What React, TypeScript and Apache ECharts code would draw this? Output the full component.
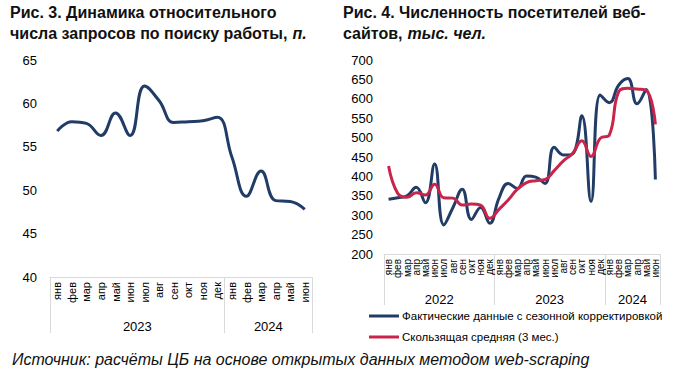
import React, { useEffect, useRef } from "react";
import * as echarts from "echarts";

const months = ["янв", "фев", "мар", "апр", "май", "июн", "июл", "авг", "сен", "окт", "ноя", "дек"];

// Left chart (Рис. 3)
const leftCategories = [...months, ...months.slice(0, 6)];
const leftYears = ["2023", "2024"];
const leftYearCounts = [12, 6];
const leftValues = [56.8, 57.9, 57.7, 56.3, 58.9, 56.3, 62.0, 60.3, 57.8, 57.9, 58.0, 58.4, 53.8, 49.3, 52.2, 48.8, 48.7, 47.8];

// Right chart (Рис. 4)
const rightCategories = [...months, ...months, ...months.slice(0, 6)];
const rightYears = ["2022", "2023", "2024"];
const rightYearCounts = [12, 12, 6];
const actualValues = [341, 345, 350, 372, 332, 432, 275, 320, 367, 289, 320, 279, 344, 382, 369, 401, 398, 382, 475, 455, 458, 556, 335, 610, 590, 635, 652, 587, 624, 392];
const movingAvgValues = [427, 356, 346, 358, 352, 380, 345, 344, 326, 329, 326, 292, 315, 339, 367, 384, 389, 392, 415, 440, 459, 492, 451, 498, 507, 618, 627, 625, 622, 534];

const seriesNames = ["Фактические данные с сезонной корректировкой", "Скользящая средняя (3 мес.)"];

const NAVY = "#213c66";
const RED = "#c7254b";
const GRAYLINE = "#d9d9d9";
const FONT = "Liberation Sans, Arial, sans-serif";

function boundaries(counts: number[]) {
  const b = [0];
  counts.forEach((c) => b.push(b[b.length - 1] + c));
  return b;
}
function centers(counts: number[]) {
  const b = boundaries(counts);
  return counts.map((c, i) => b[i] + c / 2);
}

function yearAxis(gridIndex: number, years: string[], counts: number[], tickLen: number, labelMargin: number, fontSize: number) {
  const total = counts.reduce((a, b) => a + b, 0);
  const cs = centers(counts);
  return {
    type: "value",
    gridIndex,
    position: "bottom",
    min: 0,
    max: total,
    axisLine: { show: false },
    splitLine: { show: false },
    axisTick: { show: true, length: tickLen, customValues: boundaries(counts), lineStyle: { color: GRAYLINE, width: 1 } },
    axisLabel: {
      show: true,
      customValues: cs,
      margin: labelMargin,
      fontSize,
      color: "#000",
      fontFamily: FONT,
      formatter: (v: number) => {
        const idx = cs.findIndex((c) => Math.abs(c - v) < 1e-6);
        return idx >= 0 ? years[idx] : "";
      },
    },
  };
}

const titleRich = {
  b: { fontSize: 16, fontWeight: "bold", color: "#111", fontFamily: FONT, lineHeight: 21 },
  i: { fontSize: 16, fontStyle: "italic", color: "#111", fontFamily: FONT, lineHeight: 21 },
};

export default function App() {
  const ref = useRef<HTMLDivElement>(null);
  useEffect(() => {
    if (!ref.current) return;
    const chart = echarts.init(ref.current, null, { renderer: "svg" });
    const option: any = {
      animation: false,
      backgroundColor: "#ffffff",
      textStyle: { fontFamily: FONT },
      title: [
        {
          left: 10,
          top: 2,
          padding: 0,
          text: "{b|Рис. 3. Динамика относительного}\n{b|числа запросов по поиску работы,} {i|п.}",
          textStyle: { rich: titleRich },
        },
        {
          left: 343,
          top: 2,
          padding: 0,
          text: "{b|Рис. 4. Численность посетителей веб-}\n{b|сайтов,} {i|тыс. чел.}",
          textStyle: { rich: titleRich },
        },
      ],
      grid: [
        { left: 50, right: 368, top: 60, bottom: 106, containLabel: false, outerBoundsMode: "none" },
        { left: 384, right: 20, top: 60, bottom: 129, containLabel: false, outerBoundsMode: "none" },
      ],
      xAxis: [
        {
          type: "category",
          gridIndex: 0,
          data: leftCategories,
          boundaryGap: true,
          axisLine: { show: true, lineStyle: { color: GRAYLINE, width: 1 } },
          axisTick: { show: false },
          axisLabel: { interval: 0, rotate: 90, fontSize: 11, color: "#000", margin: 5, fontFamily: FONT },
        },
        yearAxis(0, leftYears, leftYearCounts, 56, 43, 13),
        {
          type: "category",
          gridIndex: 1,
          data: rightCategories,
          boundaryGap: true,
          axisLine: { show: true, lineStyle: { color: GRAYLINE, width: 1 } },
          axisTick: { show: false },
          axisLabel: { interval: 0, rotate: 90, fontSize: 10, color: "#000", margin: 5, fontFamily: FONT },
        },
        yearAxis(1, rightYears, rightYearCounts, 51, 39, 13),
      ],
      yAxis: [
        {
          type: "value",
          gridIndex: 0,
          min: 40,
          max: 65,
          interval: 5,
          axisLine: { show: false },
          axisTick: { show: false },
          splitLine: { show: false },
          axisLabel: { fontSize: 13, color: "#000", margin: 13, fontFamily: FONT },
        },
        {
          type: "value",
          gridIndex: 1,
          min: 200,
          max: 700,
          interval: 50,
          axisLine: { show: false },
          axisTick: { show: false },
          splitLine: { show: false },
          axisLabel: { fontSize: 13, color: "#000", margin: 11, fontFamily: FONT },
        },
      ],
      legend: {
        orient: "vertical",
        left: 369,
        top: 310,
        padding: 0,
        itemWidth: 30,
        itemHeight: 3,
        itemGap: 9,
        icon: "rect",
        data: seriesNames,
        textStyle: { fontSize: 11.5, color: "#000", fontFamily: FONT, padding: [0, 0, 0, -2] },
      },
      series: [
        {
          type: "line",
          name: "Рис. 3",
          xAxisIndex: 0,
          yAxisIndex: 0,
          data: leftValues,
          smooth: 0.45,
          symbol: "none",
          lineStyle: { color: NAVY, width: 3 },
          itemStyle: { color: NAVY },
        },
        {
          type: "line",
          name: seriesNames[0],
          xAxisIndex: 2,
          yAxisIndex: 1,
          data: actualValues,
          smooth: 0.45,
          symbol: "none",
          lineStyle: { color: NAVY, width: 3 },
          itemStyle: { color: NAVY },
        },
        {
          type: "line",
          name: seriesNames[1],
          xAxisIndex: 2,
          yAxisIndex: 1,
          data: movingAvgValues,
          smooth: 0.45,
          symbol: "none",
          lineStyle: { color: RED, width: 3 },
          itemStyle: { color: RED },
        },
      ],
      graphic: [
        {
          type: "text",
          left: 12,
          top: 351,
          style: {
            text: "Источник: расчёты ЦБ на основе открытых данных методом web-scraping",
            fontSize: 16,
            fontStyle: "italic",
            fill: "#111",
            fontFamily: FONT,
          },
        },
      ],
    };
    chart.setOption(option);
    return () => chart.dispose();
  }, []);
  return <div ref={ref} style={{ position: "fixed", left: 0, top: 0, width: 680, height: 383 }} />;
}
